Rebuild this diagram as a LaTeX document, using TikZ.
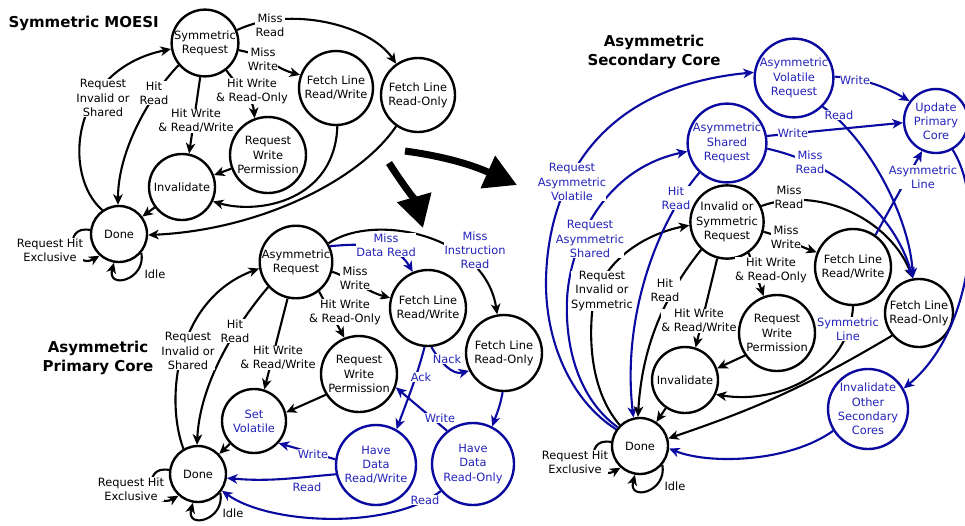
\documentclass[tikz,border=0pt]{standalone}
\usepackage{fontspec}
\setmainfont{DejaVu Sans}
\usetikzlibrary{arrows.meta}
\definecolor{bline}{RGB}{10,10,160}
\definecolor{btext}{RGB}{35,35,185}
\begin{document}
\begin{tikzpicture}[x=1pt,y=1pt,
  every node/.style={font=\fontsize{11.4}{14.2}\selectfont},
  st/.style={circle,draw,line width=2.4pt,inner sep=0pt,align=center,minimum size=#1},
  bst/.style={st=#1,draw=bline,text=btext},
  ed/.style={line width=2.1pt,-{Stealth[length=10.5pt,width=9.5pt,inset=3pt]}},
  bed/.style={ed,color=bline},
  lb/.style={fill=white,inner sep=0.3pt,align=center},
  blb/.style={lb,text=btext},
  ttl/.style={font=\fontsize{15}{19}\selectfont\bfseries,align=center},
  bigarr/.style={line width=7pt,-{Triangle[length=32pt,width=34pt]}}
]
\fill[white] (0,0) rectangle (965,-525);
\useasboundingbox (0,0) rectangle (965,-525);

% ---------------- Symmetric MOESI ----------------
\node[ttl,anchor=west] (t1) at (5,-23) {Symmetric MOESI};
\node[st=66] (sreq) at (205,-43) {Symmetric\\Request};
\node[st=74] (sfrw) at (336,-88) {Fetch Line\\Read/Write};
\node[st=74] (sfro) at (418,-95) {Fetch Line\\Read-Only};
\node[st=76] (srwp) at (268,-155) {Request\\Write\\Permission};
\node[st=66] (sinv) at (182,-187) {Invalidate};
\node[st=56] (sdone) at (119,-234) {Done};

\draw[ed] (sreq.22) .. controls (290,-5) and (370,-25) .. (sfro.125);
\draw[ed] (sreq.-12) to[out=-10,in=165] (sfrw.160);
\draw[ed] (sreq.-52) to[out=-55,in=95] (srwp.110);
\draw[ed] (sreq.-98) -- (sinv.78);
\draw[ed] (sreq.-140) .. controls (150,-95) and (118,-150) .. (sdone.92);
\draw[ed] (sdone.125) .. controls (62,-175) and (70,-70) .. (sreq.190);
\draw[ed] (srwp) -- (sinv);
\draw[ed] (sfrw.-88) .. controls (335,-200) and (260,-215) .. (sinv.-25);
\draw[ed] (sinv) -- (sdone);
\draw[ed] (sfro.-125) .. controls (360,-180) and (260,-230) .. (sdone.-2);
\draw[ed] (sdone.172) .. controls +(170:30) and +(-150:30) .. (sdone.-132);
\draw[ed] (sdone.-40) .. controls +(-80:28) and +(-105:28) .. (sdone.-100);

\node[lb] (l1) at (270,-25) {Miss\\Read};
\node[lb] (l2) at (263,-59) {Miss\\Write};
\node[lb] (l3) at (252,-91) {Hit Write\\\& Read-Only};
\node[lb] (l4) at (196,-121) {Hit Write\\\& Read/Write};
\node[lb] (l5) at (154,-93) {Hit\\Read};
\node[lb] (l6) at (103,-98) {Request\\Invalid or\\Shared};
\node[lb] (l7) at (50,-250) {Request Hit\\Exclusive};
\node (l8) at (155,-274) {Idle};

% ---------------- big arrows ----------------
\coordinate (ba1s) at (389,-163);
\coordinate (ba1e) at (423,-228);
\coordinate (ba2s) at (405,-151);
\coordinate (ba2e) at (517,-185);
\draw[bigarr] (ba1s) to[out=-57,in=106] (ba1e);
\draw[bigarr] (ba2s) to[out=-8,in=156] (ba2e);

% ---------------- Asymmetric Primary Core ----------------
\node[ttl] (t2) at (98,-358) {Asymmetric\\Primary Core};
\node[st=72] (preq) at (296,-262) {Asymmetric\\Request};
\node[st=76] (pfrw) at (428,-308) {Fetch Line\\Read/Write};
\node[st=76] (pfro) at (504,-353) {Fetch Line\\Read-Only};
\node[st=76] (prwp) at (359,-374) {Request\\Write\\Permission};
\node[st=64,text=btext] (psv) at (254,-421) {Set\\Volatile};
\node[st=56] (pdone) at (198,-474) {Done};
\node[bst=80] (phrw) at (376,-465) {Have\\Data\\Read/Write};
\node[bst=82] (phro) at (473,-464) {Have\\Data\\Read-Only};

\draw[ed] (preq.30) .. controls (375,-212) and (485,-235) .. (pfro.100);
\draw[bed] (preq.25) to[out=5,in=120] (pfrw.113);
\draw[ed] (preq.-15) to[out=-20,in=165] (pfrw.165);
\draw[ed] (preq.-52) -- (prwp.112);
\draw[ed] (preq.-103) -- (psv.72);
\draw[ed] (preq.-138) .. controls (240,-320) and (200,-380) .. (pdone.92);
\draw[ed] (pdone.120) .. controls (165,-400) and (175,-300) .. (preq.190);
\draw[ed] (prwp.-148) -- (psv.15);
\draw[ed] (psv) -- (pdone);
\draw[bed] (pfrw.-95) to[out=-105,in=70] (phrw.60);
\draw[bed] (pfrw.-85) to[out=-60,in=195] (pfro.207);
\draw[bed] (pfro.-92) to[out=-100,in=70] (phro.63);
\draw[bed] (phro.128) -- (prwp.-20);
\draw[bed] (phrw.172) -- (psv.-42);
\draw[bed] (phrw.193) to[out=185,in=-5] (pdone.-8);
\draw[bed] (phro.-140) .. controls (390,-530) and (270,-525) .. (pdone.-35);
\draw[ed] (pdone.172) .. controls +(170:30) and +(-150:30) .. (pdone.-132);
\draw[ed] (pdone.-40) .. controls +(-80:28) and +(-105:28) .. (pdone.-100);

\node[blb] (m1) at (386,-245) {Miss\\Data Read};
\node[blb] (m2) at (475,-250) {Miss\\Instruction\\Read};
\node[lb] (m3) at (355,-278) {Miss\\Write};
\node[lb] (m4) at (345,-312) {Hit Write\\\& Read-Only};
\node[lb] (m5) at (278,-358) {Hit Write\\\& Read/Write};
\node[lb] (m6) at (235,-331) {Hit\\Read};
\node[lb] (m7) at (188,-351) {Request\\Invalid or\\Shared};
\node[blb] (m8) at (421,-377) {Ack};
\node[blb] (m9) at (447,-359) {Nack};
\node[blb] (m10) at (440,-418) {Write};
\node[blb] (m11) at (313,-454) {Write};
\node[text=btext] (m12) at (307,-487) {Read};
\node[blb] (m13) at (425,-500) {Read};
\node[lb] (m14) at (131,-489) {Request Hit\\Exclusive};
\node (m15) at (233,-513) {Idle};

% ---------------- Asymmetric Secondary Core ----------------
\node[ttl] (t3) at (654,-52) {Asymmetric\\Secondary Core};
\node[bst=76] (avr) at (794,-78) {Asymmetric\\Volatile\\Request};
\node[bst=64] (upc) at (936,-121) {Update\\Primary\\Core};
\node[bst=76] (asr) at (727,-143) {Asymmetric\\Shared\\Request};
\node[st=68] (isr) at (727,-222) {Invalid or\\Symmetric\\Request};
\node[st=76] (sfrw2) at (853,-267) {Fetch Line\\Read/Write};
\node[st=68] (sfro2) at (919,-313) {Fetch Line\\Read-Only};
\node[st=76] (srwp2) at (777,-333) {Request\\Write\\Permission};
\node[st=66] (sinv2) at (685,-380) {Invalidate};
\node[bst=80] (iosc) at (868,-409) {Invalidate\\Other\\Secondary\\Cores};
\node[st=56] (sdone2) at (640,-446) {Done};

\draw[bed] (sdone2.145) .. controls (570,-400) and (545,-340) .. (546,-280) .. controls (547,-220) and (570,-90) .. (avr.172);
\draw[bed] (sdone2.140) .. controls (580,-400) and (565,-350) .. (567,-300) .. controls (569,-250) and (600,-170) .. (asr.192);
\draw[ed] (sdone2.134) .. controls (598,-400) and (588,-360) .. (592,-313) .. controls (596,-266) and (640,-235) .. (isr.185);
\draw[bed] (asr.-133) .. controls (655,-225) and (622,-320) .. (sdone2.103);
\draw[ed] (isr.-133) .. controls (665,-295) and (642,-345) .. (sdone2.94);
\draw[ed] (isr.25) .. controls (820,-185) and (890,-220) .. (sfro2.100);
\draw[ed] (isr.-15) to[out=-15,in=160] (sfrw2.158);
\draw[ed] (isr.-55) -- (srwp2.110);
\draw[ed] (isr.-105) -- (sinv2.72);
\draw[ed] (srwp2.-145) -- (sinv2.20);
\draw[ed] (sfrw2.-90) .. controls (850,-370) and (780,-405) .. (sinv2.-25);
\draw[bed] (sfrw2.55) -- (upc.-115);
\draw[ed] (sfro2.-140) to[bend left=6] (sdone2.15);
\draw[ed] (sinv2) -- (sdone2);
\draw[bed] (avr.2) to[out=-5,in=150] (upc.143);
\draw[bed] (asr.10) -- (upc.183);
\draw[bed] (avr.-45) .. controls (870,-140) and (910,-220) .. (sfro2.100);
\draw[bed] (asr.-8) .. controls (840,-165) and (895,-215) .. (sfro2.100);
\draw[bed] (upc.-60) .. controls (985,-200) and (975,-330) .. (iosc.30);
\draw[bed] (iosc.-148) .. controls (790,-462) and (710,-465) .. (sdone2.-5);
\draw[ed] (sdone2.172) .. controls +(170:30) and +(-150:30) .. (sdone2.-132);
\draw[ed] (sdone2.-40) .. controls +(-80:28) and +(-105:28) .. (sdone2.-100);

\node[blb] (n1) at (572,-182) {Request\\Asymmetric\\Volatile};
\node[blb] (n2) at (590,-239) {Request\\Asymmetric\\Shared};
\node[lb] (n3) at (602,-291) {Request\\Invalid or\\Symmetric};
\node[blb] (n4) at (676,-198) {Hit\\Read};
\node[lb] (n5) at (665,-290) {Hit\\Read};
\node[lb] (n6) at (789,-197) {Miss\\Read};
\node[lb] (n7) at (786,-237) {Miss\\Write};
\node[lb] (n8) at (771,-270) {Hit Write\\\& Read-Only};
\node[lb] (n9) at (699,-321) {Hit Write\\\& Read/Write};
\node[blb] (n10) at (848,-329) {Symmetric\\Line};
\node[blb] (n11) at (923,-177) {Asymmetric\\Line};
\node[blb] (n12) at (855,-80) {Write};
\node[blb] (n13) at (793,-133) {Write};
\node[blb] (n14) at (839,-115) {Read};
\node[blb] (n15) at (810,-162) {Miss\\Read};
\node[lb] (n16) at (575,-462) {Request Hit\\Exclusive};
\node (n17) at (675,-486) {Idle};
\end{tikzpicture}
\end{document}
